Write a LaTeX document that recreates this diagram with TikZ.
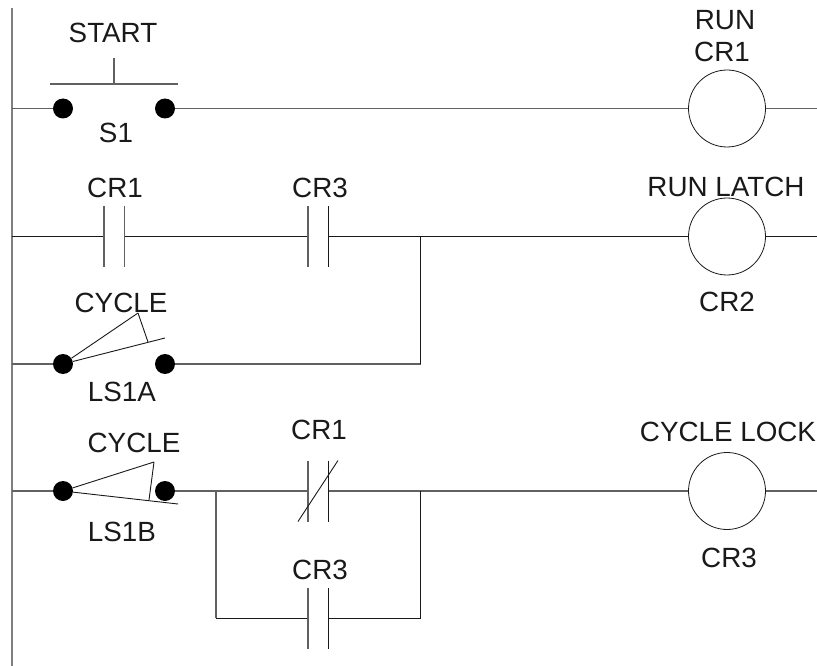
\documentclass[tikz,border=0pt]{standalone}
\usepackage{fontspec}
\setmainfont{Liberation Sans}
\tikzset{
  wire/.style={draw=black!62,line width=1.2pt},
  thinwire/.style={draw=black!90,line width=0.9pt},
  terminal/.style={circle,fill=black,inner sep=0pt,minimum size=20pt},
  coil/.style={circle,draw=black!90,line width=0.8pt,inner sep=0pt,minimum size=77pt},
  label/.style={inner sep=0pt,text=black!90,font=\fontsize{27.8}{27.8}\selectfont}
}
\begin{document}
\begin{tikzpicture}[x=1pt,y=-1pt]
  \useasboundingbox (0,0) rectangle (817,666);

  % rail
  \coordinate (railtop) at (12,8);
  \coordinate (railbot) at (12,666);
  \draw[draw=black!50,line width=2pt] (railtop) -- (railbot);

  % first rung
  \coordinate (r1a) at (12,108.5);
  \coordinate (r1b) at (817,108.5);
  \node[terminal] (s1a) at (63,108.5) {};
  \node[terminal] (s1b) at (165,108.5) {};
  \node[coil] (cr1coil) at (727,108.5) {};
  \draw[wire] (r1a) -- (s1a);
  \draw[wire] (s1b) -- (cr1coil);
  \draw[wire] (cr1coil) -- (r1b);
  \coordinate (bar1) at (50,84);
  \coordinate (bar2) at (178,84);
  \coordinate (stem1) at (114,58.5);
  \coordinate (stem2) at (114,84);
  \draw[wire,line width=1.6pt] (bar1) -- (bar2);
  \draw[wire] (stem1) -- (stem2);
  \node[label] at (113,33) {START};
  \node[label] at (116,133) {S1};
  \node[label] at (725,20) {RUN};
  \node[label] at (722,52) {CR1};

  % second rung
  \coordinate (r2a) at (12,236.5);
  \coordinate (r2b) at (817,236.5);
  \coordinate (j2) at (420.5,236.5);
  \coordinate (c1a) at (104,236.5);
  \coordinate (c1b) at (124.3,236.5);
  \coordinate (c2a) at (308,236.5);
  \coordinate (c2b) at (328.3,236.5);
  \node[coil] (cr2coil) at (727,236.5) {};
  \draw[thinwire] (r2a) -- (c1a);
  \draw[thinwire] (c1b) -- (c2a);
  \draw[thinwire] (c2b) -- (cr2coil);
  \draw[thinwire] (cr2coil) -- (r2b);
  \draw[wire] (c1a) ++(0,-30.5) -- ++(0,61);
  \draw[wire] (c1b) ++(0,-30.5) -- ++(0,61);
  \draw[wire] (c2a) ++(0,-30.5) -- ++(0,61);
  \draw[thinwire] (c2b) ++(0,-30.5) -- ++(0,61);
  \node[label] at (115,188) {CR1};
  \node[label] at (320,188) {CR3};
  \node[label] at (726,187) {RUN LATCH};
  \node[label] at (727,302) {CR2};

  % branch under second rung
  \coordinate (r2c) at (12,364);
  \coordinate (j2c) at (420.5,364);
  \node[terminal] (ls1a) at (63,364) {};
  \node[terminal] (ls1b) at (165,364) {};
  \draw[wire] (r2c) -- (ls1a);
  \draw[wire] (ls1b) -- (j2c);
  \draw[thinwire] (j2c) -- (j2);
  \coordinate (arm1) at (165,338);
  \coordinate (arm2) at (138,313);
  \coordinate (arm3) at (148,342);
  \draw[thinwire] (ls1a) -- (arm1);
  \draw[thinwire] (ls1a) -- (arm2);
  \draw[thinwire] (arm2) -- (arm3);
  \node[label] at (121,303) {CYCLE};
  \node[label] at (122,392) {LS1A};

  % third rung
  \coordinate (r3a) at (12,491);
  \coordinate (r3b) at (817,491);
  \coordinate (j3a) at (216,491);
  \coordinate (j3b) at (420.5,491);
  \coordinate (c3a) at (308,491);
  \coordinate (c3b) at (328.3,491);
  \node[terminal] (ls2a) at (63,491) {};
  \node[terminal] (ls2b) at (165,491) {};
  \node[coil] (cr3coil) at (727,491) {};
  \draw[wire] (r3a) -- (ls2a);
  \draw[wire] (ls2b) -- (c3a);
  \draw[wire] (c3b) -- (cr3coil);
  \draw[wire] (cr3coil) -- (r3b);
  \coordinate (arm4) at (178,504);
  \coordinate (arm5) at (154,462);
  \coordinate (arm6) at (149,500);
  \draw[thinwire] (ls2a) -- (arm4);
  \draw[thinwire] (ls2a) -- (arm5);
  \draw[thinwire] (arm5) -- (arm6);
  \draw[wire] (c3a) ++(0,-30.5) -- ++(0,61);
  \draw[thinwire] (c3b) ++(0,-30.5) -- ++(0,61);
  \coordinate (slash1) at (298,521.5);
  \coordinate (slash2) at (338,460.5);
  \draw[thinwire] (slash1) -- (slash2);
  \node[label] at (134,443) {CYCLE};
  \node[label] at (122,532) {LS1B};
  \node[label] at (319,430) {CR1};
  \node[label] at (728,432) {CYCLE LOCK};
  \node[label] at (729,558) {CR3};

  % branch under third rung
  \coordinate (c4a) at (308,618.3);
  \coordinate (c4b) at (328.3,618.3);
  \coordinate (b3a) at (216,618.3);
  \coordinate (b3b) at (420.5,618.3);
  \draw[wire] (j3a) -- (b3a);
  \draw[thinwire] (b3a) -- (c4a);
  \draw[thinwire] (c4b) -- (b3b);
  \draw[thinwire] (b3b) -- (j3b);
  \draw[wire] (c4a) ++(0,-30.5) -- ++(0,61);
  \draw[thinwire] (c4b) ++(0,-30.5) -- ++(0,61);
  \node[label] at (320,570) {CR3};
\end{tikzpicture}
\end{document}
